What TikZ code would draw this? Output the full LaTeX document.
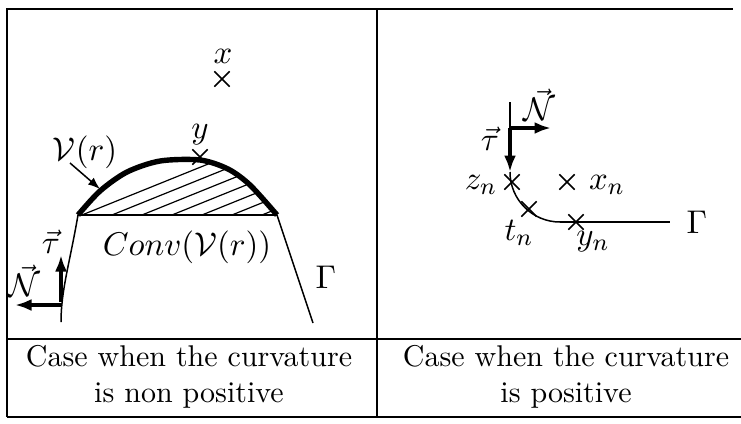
\documentclass[tikz,border=0pt]{standalone}
\usepackage{amsmath,amssymb}
\usepackage{tikz}
\usetikzlibrary{arrows.meta,shapes.misc}

\begin{document}
\begin{tikzpicture}[x=0.3333pt, y=-0.3333pt,
  frame/.style={line width=0.7pt},
  curve/.style={line width=0.5pt},
  arr/.style={-{Latex[length=5.5pt,width=4pt]}, line width=1.3pt},
  hatch/.style={line width=0.4pt},
  lab/.style={font=\fontsize{10.8}{13}\selectfont},
  mark point/.style={cross out, draw, line width=0.5pt, minimum size=4.6pt, inner sep=0pt}]
  \useasboundingbox (0,0) rectangle (741,423);

  % Table
  \draw[frame] (7,417) -- (7,9) -- (733,9);
  \draw[frame] (377,9) -- (377,417);
  \draw[frame] (7,339) -- (741,339);
  \draw[frame] (7,417) -- (741,417);

  % Left cell: non positive curvature
  \coordinate (vl) at (78,215);
  \coordinate (vr) at (277,215);
  \coordinate (gl) at (61,322);
  \coordinate (gr) at (313,323);

  % Hatched region
  \begin{scope}
    \clip plot[smooth] coordinates {(78,215) (100,191) (127,172) (160,161) (200,160) (228,169) (250,185) (277,215)} -- cycle;
    \foreach \s in {0,...,11}
      \draw[hatch] (20+30*\s,240) -- ++(260,-105);
  \end{scope}
  \draw[line width=1.8pt] plot[smooth] coordinates {(78,215) (100,191) (127,172) (160,161) (200,160) (228,169) (250,185) (277,215)};
  \draw[frame] (vl) -- (vr);
  \draw[curve] (vl) .. controls (70,262) and (61,290) .. (gl);
  \draw[curve] (vr) -- (gr);

  \node[mark point] (x) at (222,79) {};
  \node[lab] (xlab) at (223,56) {$x$};
  \node[mark point] (y) at (200,157) {};
  \node[lab] (ylab) at (200,135) {$y$};
  \node[lab] (vlab) at (85,152) {$\mathcal{V}(r)$};
  \coordinate (vfrom) at (70,163);
  \coordinate (vtip) at (100,189);
  \draw[curve, -{Latex[length=4pt,width=3pt]}] (vfrom) -- (vtip);
  \node[lab] (conv) at (187,247) {$Conv(\mathcal{V}(r))$};
  \node[lab] (gamL) at (326,277) {$\Gamma$};

  \coordinate (oL) at (61,305);
  \coordinate (tauL) at (61,255);
  \coordinate (nL) at (15,305);
  \draw[arr] (61,302) -- (tauL);
  \draw[arr] (oL) -- (nL);
  \node[lab] (taulab) at (51,242) {$\vec{\tau}$};
  \node[lab] (nlab) at (24,281) {$\vec{\mathcal{N}}$};

  % Right cell: positive curvature
  \coordinate (top) at (510,102);
  \coordinate (oR) at (510,128);
  \coordinate (tauR) at (510,172);
  \coordinate (nR) at (551,128);
  \coordinate (c) at (560,222);
  \coordinate (gR) at (670,222);
  \draw[curve] (top) -- (oR);
  \draw[arr] (oR) -- (tauR);
  \draw[arr] (oR) -- (nR);
  \draw[curve] (tauR) .. controls (510,199.6) and (532.4,222) .. (c);
  \draw[line width=0.8pt] (c) -- (gR);

  \node[lab] (nRlab) at (539,105) {$\vec{\mathcal{N}}$};
  \node[lab] (tauRlab) at (490,139) {$\vec{\tau}$};
  \node[mark point] (zn) at (512,182) {};
  \node[mark point] (xn) at (567,182) {};
  \node[mark point] (tn) at (529,209) {};
  \node[mark point] (yn) at (576,222) {};
  \node[lab] (znlab) at (481,185) {$z_n$};
  \node[lab] (xnlab) at (607,185) {$x_n$};
  \node[lab] (tnlab) at (519,233) {$t_n$};
  \node[lab] (ynlab) at (593,242) {$y_n$};
  \node[lab] (gamR) at (697,222) {$\Gamma$};

  % Captions
  \node[align=center] (capL) at (189,377) {Case when the curvature\\is non positive};
  \node[align=center] (capR) at (566,377) {Case when the curvature\\is positive};
\end{tikzpicture}
\end{document}
